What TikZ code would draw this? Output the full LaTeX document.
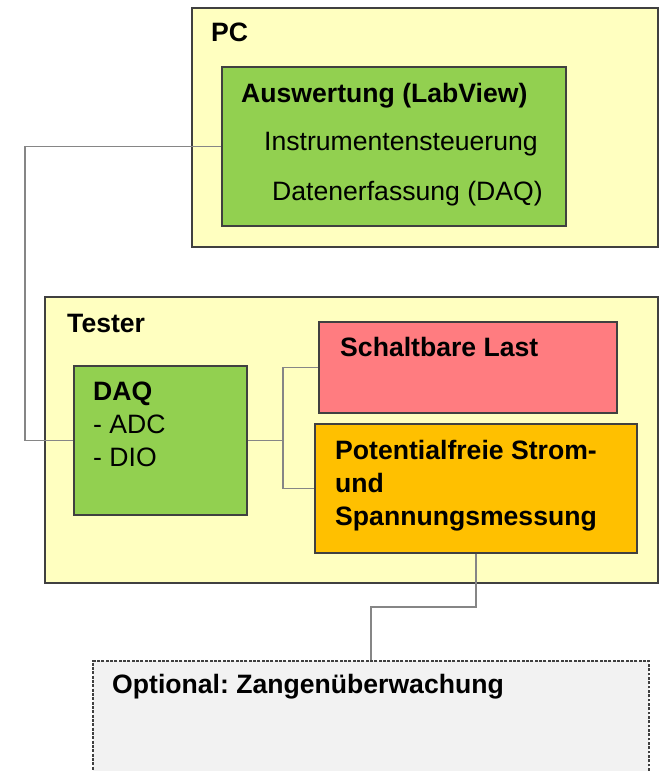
\documentclass[tikz,border=0pt]{standalone}
\usepackage{fontspec}
\setmainfont{Liberation Sans}
\usetikzlibrary{fit}
\usepackage{xcolor}
\definecolor{hostyellow}{HTML}{FFFFC0}
\definecolor{daqgreen}{HTML}{92D050}
\definecolor{loadred}{HTML}{FF7C80}
\definecolor{measorange}{HTML}{FFC000}
\definecolor{optgray}{HTML}{F2F2F2}
\definecolor{boxline}{HTML}{404040}
\definecolor{connline}{HTML}{868686}
\frenchspacing

\begin{document}
\begin{tikzpicture}[x=0.03cm,y=-0.03cm,
    box/.style={draw=boxline,line width=1pt,inner sep=0pt},
    conn/.style={draw=connline,line width=1.1pt},
    lbl/.style={anchor=base west,inner sep=0pt,font=\fontsize{22.7}{27}\selectfont},
    blbl/.style={lbl,font=\fontsize{22.7}{27}\selectfont\bfseries}]
  \useasboundingbox (0,0) rectangle (661,771);
  \clip (0,0) rectangle (661,771);

  % PC
  \node[box,fill=hostyellow,fit={(192,8) (658,247)}] (pc) {};
  \node[box,fill=daqgreen,fit={(222,67) (566,226)}] (ausw) {};
  \node[blbl] (pcT) at (211,41) {PC};
  \node[blbl] (auswT) at (241,102) {Auswertung (LabView)};
  \node[lbl] (instr) at (264,150) {Instrumentensteuerung};
  \node[lbl] (daten) at (272,200) {Datenerfassung (DAQ)};

  % Tester
  \node[box,fill=hostyellow,fit={(45,297) (658,583)}] (tester) {};
  \node[box,fill=daqgreen,fit={(74,366) (247,515)}] (daq) {};
  \node[box,fill=loadred,fit={(319,322) (617,413)}] (last) {};
  \node[box,fill=measorange,fit={(315,424) (637,553)}] (pot) {};
  \node[blbl] (testerT) at (67,332) {Tester};
  \node[blbl] (daqT) at (93,400) {DAQ};
  \node[lbl] (adc) at (93,433) {- ADC};
  \node[lbl] (dio) at (93,466) {- DIO};
  \node[blbl] (lastT) at (340,356) {Schaltbare Last};
  \node[blbl] (potT1) at (335,459) {Potentialfreie Strom-};
  \node[blbl] (potT2) at (335,492) {und};
  \node[blbl] (potT3) at (335,525) {Spannungsmessung};

  % Zange
  \node[box,fill=optgray,dash pattern=on 2.5pt off 1.2pt,fit={(93,661) (649,800)}] (opt) {};
  \node[blbl] (optT) at (112,693) {Optional: Zangen\"uberwachung};

  \coordinate (lft) at (25,0);
  \coordinate (br) at (283,0);
  \coordinate (kn) at (0,607);
  \draw[conn] (ausw.west) -- (ausw.west -| lft) |- (daq.west);
  \draw[conn] (daq.east) -- (daq.east -| br) |- (last.west);
  \draw[conn] (daq.east -| br) |- (pot.west);
  \draw[conn] (pot.south) -- (pot.south |- kn) -| (opt.north);
\end{tikzpicture}
\end{document}
